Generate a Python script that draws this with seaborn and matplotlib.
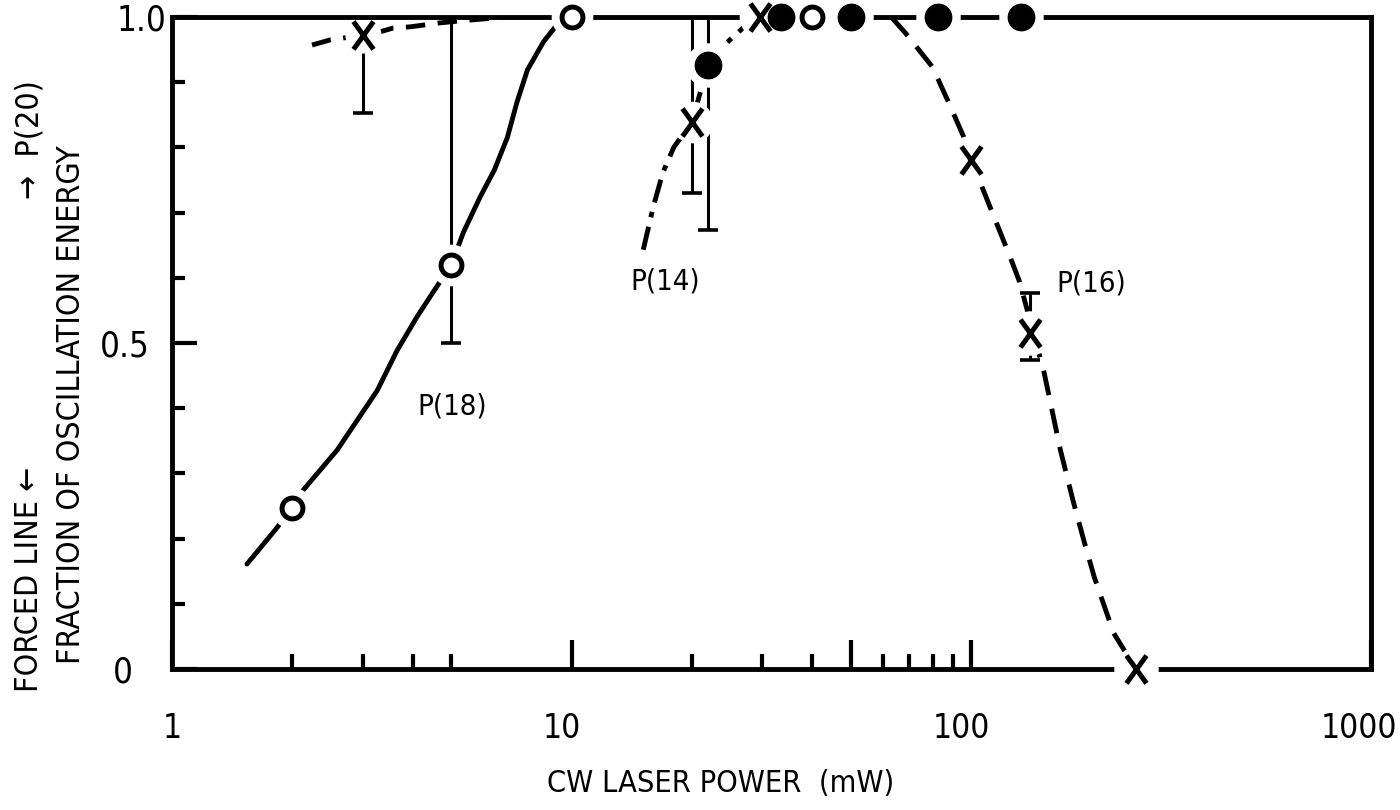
import os
import matplotlib
matplotlib.use("Agg")
import matplotlib.pyplot as plt
from matplotlib import font_manager
from matplotlib.path import Path
from matplotlib.ticker import FixedLocator, FixedFormatter, NullFormatter
from matplotlib.transforms import ScaledTranslation
import seaborn as sns

# ---------------- data: CW laser power (mW) vs fraction of oscillation energy ----------------
# P(18): open circles on a solid curve
p18_x = [2.0, 5.0, 10.0, 40.0]
p18_y = [0.247, 0.620, 1.0, 1.0]
p18_curve_x = [1.54, 1.81, 2.0, 2.12, 2.59, 3.26, 3.66, 4.1, 4.5, 5.0, 5.36, 5.9, 6.4, 6.9, 7.3,
               7.75, 8.5, 9.1, 10.0]
p18_curve_y = [0.161, 0.213, 0.247, 0.273, 0.336, 0.427, 0.489, 0.540, 0.578, 0.620, 0.670, 0.724,
               0.765, 0.815, 0.870, 0.919, 0.962, 0.985, 1.0]

# P(20): cross on a dashed curve
p20_x = [3.0]
p20_y = [0.972]
p20_curve_x = [2.24, 2.49, 3.0, 3.26, 3.57, 3.95, 4.68, 5.47, 6.9, 7.6]
p20_curve_y = [0.957, 0.965, 0.972, 0.976, 0.983, 0.985, 0.991, 0.995, 1.0, 1.0]

# P(14): crosses on a dash-dot curve
p14_x = [20.0, 29.6]
p14_y = [0.839, 1.0]
p14_curve_x = [15.1, 16.0, 16.9, 18.0, 20.0, 21.9, 23.3, 26.8, 29.6]
p14_curve_y = [0.643, 0.709, 0.761, 0.800, 0.839, 0.926, 0.949, 0.983, 1.0]

# filled circles
fill_x = [21.9, 33.3, 49.9, 82.6, 133.0]
fill_y = [0.926, 1.0, 1.0, 1.0, 1.0]

# P(16): crosses on a dashed curve
p16_x = [100.0, 140.0, 258.0]
p16_y = [0.780, 0.515, 0.0]
p16_curve_x = [63, 68.5, 80, 88, 95.7, 100, 125, 132, 152, 167, 179.5, 191, 203, 227, 258]
p16_curve_y = [1.0, 0.975, 0.923, 0.867, 0.816, 0.780, 0.632, 0.594, 0.455, 0.336, 0.259,
               0.198, 0.141, 0.055, 0.0]

# error bars: x, y, lower end, upper end
err_x = [3.0, 5.0, 20.0, 21.9, 140.0]
err_y = [0.972, 0.620, 0.839, 0.926, 0.515]
err_lo = [0.853, 0.500, 0.730, 0.673, 0.474]
err_hi = [0.972, 1.0, 1.0, 1.0, 0.577]

# axis ticks
x_major = [1, 10, 50, 100, 1000]
x_major_labels = ["1", "10", "", "100", "1000"]
x_minor = [2, 3, 4, 5, 20, 30, 40, 60, 70, 80, 90]
y_major = [0.0, 0.5, 1.0]
y_major_labels = ["0", "0.5", "1.0"]
y_minor = [0.1, 0.2, 0.3, 0.4, 0.6, 0.7, 0.8, 0.9]

# curve labels: (text, x, y)
curve_labels = [("P(18)", 5.03, 0.402), ("P(14)", 17.1, 0.595), ("P(16)", 199.0, 0.592)]


# ---------------- style ----------------
def narrow_font_entry():
    """Find a condensed / narrow regular sans face among the installed fonts."""
    keys = ["LiberationSansNarrow-Regular", "DejaVuSansCondensed.ttf", "RobotoCondensed-Regular",
            "OpenSans_Condensed-Regular", "OpenSansCondensed", "NotoSans-Condensed.", "Condensed", "Narrow"]
    bad = ("Bold", "Italic", "Oblique", "Light", "Thin", "Black", "Medium", "Semi", "Extra")
    for key in keys:
        for e in font_manager.fontManager.ttflist:
            fn = os.path.basename(e.fname)
            if key in fn and not any(b in fn for b in bad) and e.style == "normal":
                return e
    return None


sns.set_theme(style="white")
entry = narrow_font_entry()
if entry is not None:
    plt.rcParams["font.family"] = [entry.name, "DejaVu Sans"]
    plt.rcParams["font.stretch"] = entry.stretch
else:
    plt.rcParams["font.family"] = ["Roboto", "DejaVu Sans"]
plt.rcParams["lines.scale_dashes"] = False
plt.rcParams["text.color"] = "black"

INK = "black"
LW = 3.5

fig = plt.figure(figsize=(14, 8.1), dpi=100)
ax = fig.add_axes([0.1229, 0.1741, 0.8564, 0.8049])
ax.set_xscale("log")
ax.set_xlim(1, 1000)
ax.set_ylim(0, 1)

# cross marker, slightly taller than wide
cross = Path([(-0.72, -1), (0.72, 1), (-0.72, 1), (0.72, -1)],
             [Path.MOVETO, Path.LINETO, Path.MOVETO, Path.LINETO])

# ---------------- curves ----------------
sns.lineplot(x=p18_curve_x, y=p18_curve_y, ax=ax, color=INK, lw=LW, sort=False,
             estimator=None, errorbar=None, solid_capstyle="round", solid_joinstyle="round",
             zorder=2)
sns.lineplot(x=p20_curve_x, y=p20_curve_y, ax=ax, color=INK, lw=LW, sort=False,
             estimator=None, errorbar=None, linestyle=(0, (14, 9)), zorder=2)
sns.lineplot(x=p14_curve_x, y=p14_curve_y, ax=ax, color=INK, lw=LW, sort=False,
             estimator=None, errorbar=None, linestyle=(0, (17, 7, 4, 7)), zorder=2)
sns.lineplot(x=p16_curve_x, y=p16_curve_y, ax=ax, color=INK, lw=LW, sort=False,
             estimator=None, errorbar=None, linestyle=(0, (18, 10)), zorder=2)

# ---------------- error bars ----------------
ax.vlines(err_x, err_lo, err_hi, color=INK, lw=2.2, zorder=2.1, clip_on=False)
ax.plot(err_x, err_lo, ls="none", marker="_", ms=14, mew=2.6, color=INK, zorder=2.1)
cap_top_x = [x for x, y, h in zip(err_x, err_y, err_hi) if y < h < 1.0]
cap_top_y = [h for y, h in zip(err_y, err_hi) if y < h < 1.0]
ax.plot(cap_top_x, cap_top_y, ls="none", marker="_", ms=14, mew=2.6, color=INK, zorder=2.1)


# ---------------- markers with white halos that open gaps in lines ----------------
def halo(xs, ys, size, z):
    ax.plot(xs, ys, ls="none", marker="o", ms=size, mfc="white", mec="white",
            mew=0, zorder=z, clip_on=False)


halo(p18_x, p18_y, 30, 4)
halo(fill_x, fill_y, 32, 4)
halo(p14_x, p14_y, 30, 4)
halo(p16_x, p16_y, 32, 4)
halo(p20_x, p20_y, 26, 2.4)

ax.plot(p18_x, p18_y, ls="none", marker="o", ms=15, mfc="white", mec=INK, mew=3.6,
        zorder=5, clip_on=False)
ax.plot(fill_x, fill_y, ls="none", marker="o", ms=19, mfc=INK, mec=INK, mew=1,
        zorder=5, clip_on=False)
for xs, ys in [(p20_x, p20_y), (p14_x, p14_y), (p16_x, p16_y)]:
    ax.plot(xs, ys, ls="none", marker=cross, ms=20, mfc="none", mec=INK, mew=3.6,
            zorder=5, clip_on=False)

# ---------------- curve labels ----------------
for text, x, y in curve_labels:
    ax.text(x, y, text, fontsize=21, ha="center", va="center", color=INK, zorder=6)

# ---------------- axes, ticks, frame ----------------
for side in ["left", "right", "top", "bottom"]:
    ax.spines[side].set_visible(True)
    ax.spines[side].set_color(INK)
    ax.spines[side].set_linewidth(LW)

ax.xaxis.set_major_locator(FixedLocator(x_major))
ax.xaxis.set_major_formatter(FixedFormatter(x_major_labels))
ax.xaxis.set_minor_locator(FixedLocator(x_minor))
ax.xaxis.set_minor_formatter(NullFormatter())
ax.yaxis.set_major_locator(FixedLocator(y_major))
ax.yaxis.set_major_formatter(FixedFormatter(y_major_labels))
ax.yaxis.set_minor_locator(FixedLocator(y_minor))
ax.yaxis.set_minor_formatter(NullFormatter())

ax.tick_params(which="both", bottom=True, left=True, top=False, right=False,
               direction="in", color=INK, width=3)
ax.tick_params(axis="x", which="major", length=21, pad=31, labelsize=24, labelcolor=INK)
ax.tick_params(axis="x", which="minor", length=11)
ax.tick_params(axis="y", which="major", length=18, pad=16, labelsize=25, labelcolor=INK)
ax.tick_params(axis="y", which="minor", length=9)

# hand-lettered tick labels sit a little off their ticks
yshift = {"0": -12, "0.5": 0, "1.0": 12}
for lab in ax.get_yticklabels():
    dx = yshift.get(lab.get_text(), 0)
    lab.set_transform(lab.get_transform() + ScaledTranslation(dx / 72, 0, fig.dpi_scale_trans))
xshift = {"1": 0, "10": -7, "100": -7, "1000": -9}
for lab in ax.get_xticklabels():
    dx = xshift.get(lab.get_text(), 0)
    lab.set_transform(lab.get_transform() + ScaledTranslation(dx / 72, 0, fig.dpi_scale_trans))

ax.grid(False)

# ---------------- axis titles ----------------
fig.text(721 / 1400, 1 - 783 / 810, "CW LASER POWER  (mW)", fontsize=22,
         ha="center", va="center", color=INK)
fig.text(72 / 1400, 1 - 405 / 810, "FRACTION OF OSCILLATION ENERGY", fontsize=23,
         rotation=90, ha="center", va="center", color=INK)
fig.text(30 / 1400, 1 - 692 / 810, "FORCED LINE \u2190", fontsize=23,
         rotation=90, ha="center", va="bottom", color=INK)
fig.text(30 / 1400, 1 - 80 / 810, "\u2192  P(20)", fontsize=23,
         rotation=90, ha="center", va="top", color=INK)

fig.savefig("out.png", dpi=100, facecolor="white")
